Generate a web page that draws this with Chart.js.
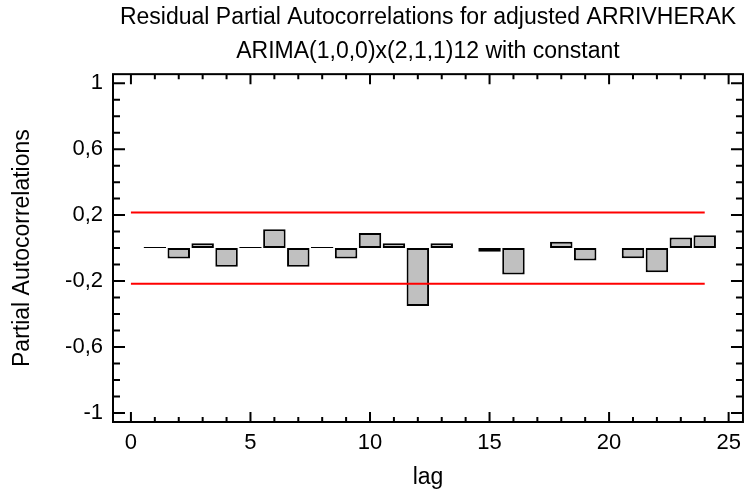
<!DOCTYPE html>
<html>
<head>
<meta charset="utf-8">
<title>Residual Partial Autocorrelations</title>
<script src="https://cdn.jsdelivr.net/npm/chart.js@4/dist/chart.umd.min.js"></script>
<style>
    html, body { margin: 0; padding: 0; background: #fff; }
    canvas { display: block; }
</style>
</head>
<body>
<canvas id="pacfChart" width="749" height="493"></canvas>
<script>
// 数据
const lags = [1, 2, 3, 4, 5, 6, 7, 8, 9, 10, 11, 12, 13, 14, 15, 16, 17, 18, 19, 20, 21, 22, 23, 24];
const pacf = [0.007, -0.063, 0.03, -0.113, 0.007, 0.114, -0.113, 0.007, -0.063, 0.092, 0.03, -0.352,
              0.03, null, -0.022, -0.161, null, 0.038, -0.076, null, -0.062, -0.147, 0.064, 0.078];
const limitLags = [0, 24];
const upperLimit = [0.216, 0.216];
const lowerLimit = [-0.216, -0.216];

const xTickValues = [0, 5, 10, 15, 20, 25];
const yTickValues = [-1, -0.6, -0.2, 0.2, 0.6, 1];

const FONT = '"Liberation Sans", Arial, sans-serif';

// 边框和内向刻度
const framePlugin = {
    id: 'frame',
    afterDraw(chart) {
        const { ctx, chartArea: a, scales: { x, y } } = chart;
        ctx.save();
        ctx.strokeStyle = '#000';
        ctx.lineWidth = 2;
        ctx.strokeRect(a.left, a.top, a.right - a.left, a.bottom - a.top);

        ctx.beginPath();
        for (let v = 0; v <= 25; v++) {
            const px = x.getPixelForValue(v);
            const len = xTickValues.includes(v) ? 10 : 5;
            ctx.moveTo(px, a.bottom);
            ctx.lineTo(px, a.bottom - len);
            ctx.moveTo(px, a.top);
            ctx.lineTo(px, a.top + len);
        }
        for (let i = -10; i <= 10; i++) {
            const v = i / 10;
            const py = y.getPixelForValue(v);
            const major = yTickValues.some(t => Math.abs(t - v) < 1e-9);
            const len = major ? 12 : 7;
            ctx.moveTo(a.left, py);
            ctx.lineTo(a.left + len, py);
            ctx.moveTo(a.right, py);
            ctx.lineTo(a.right - len, py);
        }
        ctx.stroke();
        ctx.restore();
    }
};

const ctx = document.getElementById('pacfChart').getContext('2d');

new Chart(ctx, {
    type: 'bar',
    data: {
        datasets: [
            {
                type: 'line',
                data: limitLags.map((l, i) => ({ x: l, y: upperLimit[i] })),
                borderColor: '#ff0000',
                borderWidth: 2,
                pointRadius: 0,
                order: 0
            },
            {
                type: 'line',
                data: limitLags.map((l, i) => ({ x: l, y: lowerLimit[i] })),
                borderColor: '#ff0000',
                borderWidth: 2,
                pointRadius: 0,
                order: 0
            },
            {
                type: 'bar',
                data: lags.map((l, i) => ({ x: l, y: pacf[i] })),
                backgroundColor: '#c0c0c0',
                borderColor: '#000',
                borderWidth: 2,
                borderSkipped: false,
                barPercentage: 0.94,
                categoryPercentage: 1,
                order: 1
            }
        ]
    },
    options: {
        responsive: false,
        animation: false,
        devicePixelRatio: 1,
        layout: { padding: { right: 2 } },
        plugins: {
            legend: { display: false },
            tooltip: { enabled: false },
            title: {
                display: true,
                fullSize: false,
                text: ['Residual Partial Autocorrelations for adjusted ARRIVHERAK',
                       'ARIMA(1,0,0)x(2,1,1)12 with constant'],
                color: '#000',
                font: { family: FONT, size: 23, weight: 'normal', lineHeight: 1.46 },
                padding: { top: 1, bottom: 6 }
            }
        },
        scales: {
            x: {
                type: 'linear',
                offset: false,
                min: -0.75,
                max: 25.6,
                afterBuildTicks(scale) {
                    scale.ticks = xTickValues.map(v => ({ value: v }));
                },
                afterFit(scale) {
                    scale.height = 71;
                },
                grid: { display: false, drawTicks: false },
                border: { display: false },
                ticks: {
                    color: '#000',
                    font: { family: FONT, size: 22 },
                    padding: 8,
                    maxRotation: 0
                },
                title: {
                    display: true,
                    text: 'lag',
                    color: '#000',
                    font: { family: FONT, size: 23 },
                    padding: { top: 0, bottom: 2 }
                }
            },
            y: {
                min: -1.055,
                max: 1.055,
                afterBuildTicks(scale) {
                    scale.ticks = yTickValues.map(v => ({ value: v }));
                },
                afterFit(scale) {
                    scale.width = 113;
                },
                grid: { display: false, drawTicks: false },
                border: { display: false },
                ticks: {
                    color: '#000',
                    font: { family: FONT, size: 22 },
                    padding: 10,
                    callback: v => String(v).replace('.', ',')
                },
                title: {
                    display: true,
                    text: 'Partial Autocorrelations',
                    color: '#000',
                    font: { family: FONT, size: 23 },
                    padding: { top: 9, bottom: 0 }
                }
            }
        }
    },
    plugins: [framePlugin]
});
</script>
</body>
</html>
